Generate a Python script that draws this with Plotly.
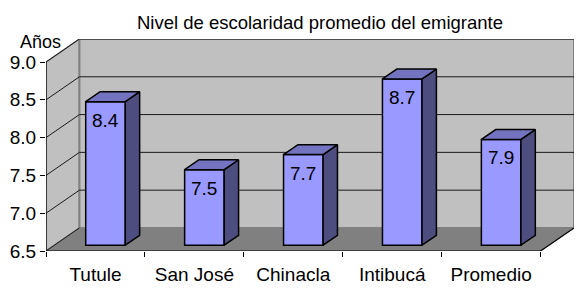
import plotly.graph_objects as go

# ---- data ----
cats = ["Tutule", "San José", "Chinacla", "Intibucá", "Promedio"]
values = [8.4, 7.5, 7.7, 8.7, 7.9]
y_ticks = [6.5, 7.0, 7.5, 8.0, 8.5, 9.0]
title_text = "Nivel de escolaridad promedio del emigrante"
y_title = "Años"

# ---- 3D projection parameters (style) ----
Y_MIN, Y_MAX = y_ticks[0], y_ticks[-1]
DX, DY = 0.338, 0.305       # full depth offset in data units
D0, D1 = 0.25, 0.68         # bar front/back depth fractions
W = 0.40                    # bar front width
SHIFT = 0.017
FONT = "Liberation Sans, Arial, sans-serif"

n = len(cats)
x0, x1 = -0.5, n - 0.5

fig = go.Figure()
common = dict(mode="lines", hoverinfo="skip", showlegend=False)

# left wall
fig.add_trace(go.Scatter(x=[x0, x0, x0 + DX, x0 + DX, x0],
                         y=[Y_MIN, Y_MAX, Y_MAX + DY, Y_MIN + DY, Y_MIN],
                         fill="toself", fillcolor="#C0C0C0",
                         line=dict(color="#808080", width=1.5), **common))
# back wall
fig.add_trace(go.Scatter(x=[x0 + DX, x1 + DX, x1 + DX, x0 + DX, x0 + DX],
                         y=[Y_MIN + DY, Y_MIN + DY, Y_MAX + DY, Y_MAX + DY, Y_MIN + DY],
                         fill="toself", fillcolor="#C0C0C0",
                         line=dict(color="#808080", width=2), **common))
# floor
fig.add_trace(go.Scatter(x=[x0, x1, x1 + DX, x0 + DX, x0],
                         y=[Y_MIN, Y_MIN, Y_MIN + DY, Y_MIN + DY, Y_MIN],
                         fill="toself", fillcolor="#808080",
                         line=dict(color="#808080", width=0.5), **common))
# gridlines (left wall diagonals + back wall horizontals)
gx, gy = [], []
for v in y_ticks:
    if v == Y_MIN:
        gx += [x0, x0 + DX, None]
        gy += [v, v + DY, None]
    else:
        gx += [x0, x0 + DX, x1 + DX, None]
        gy += [v, v + DY, v + DY, None]
fig.add_trace(go.Scatter(x=gx, y=gy, line=dict(color="#1a1a1a", width=1), **common))
# floor front & right edges, y axis line
fig.add_trace(go.Scatter(x=[x0, x0, None, x0, x1, x1 + DX],
                         y=[Y_MAX, Y_MIN, None, Y_MIN, Y_MIN, Y_MIN + DY],
                         line=dict(color="black", width=1.2), **common))

# bars (overlay axes so they sit above walls)
xc = [i + D0 * DX + SHIFT for i in range(n)]
fig.add_trace(go.Bar(x=xc, y=[v - Y_MIN for v in values], base=Y_MIN + D0 * DY,
                     width=W, marker=dict(color="#9999FF", line=dict(color="black", width=1.5)),
                     hoverinfo="skip", showlegend=False, xaxis="x2", yaxis="y2"))
sx, sy, tx, ty = [], [], [], []
ddx = (D1 - D0) * DX
for c, v in zip(xc, values):
    xl, xr = c - W / 2, c + W / 2
    sx += [xr, xr, xr + ddx, xr + ddx, xr, None]
    sy += [Y_MIN + D0 * DY, v + D0 * DY, v + D1 * DY, Y_MIN + D1 * DY, Y_MIN + D0 * DY, None]
    tx += [xl, xr, xr + ddx, xl + ddx, xl, None]
    ty += [v + D0 * DY, v + D0 * DY, v + D1 * DY, v + D1 * DY, v + D0 * DY, None]
fig.add_trace(go.Scatter(x=sx, y=sy, fill="toself", fillcolor="#4D4D80",
                         line=dict(color="black", width=1.5), xaxis="x2", yaxis="y2", **common))
fig.add_trace(go.Scatter(x=tx, y=ty, fill="toself", fillcolor="#7373BF",
                         line=dict(color="black", width=1.5), xaxis="x2", yaxis="y2", **common))

# data labels
for c, v in zip(xc, values):
    fig.add_annotation(x=c, y=v + D0 * DY, xref="x2", yref="y2", text=f"{v:.1f}",
                       showarrow=False, yanchor="top", yshift=-6,
                       font=dict(size=19, color="black", family=FONT))

fig.add_annotation(x=-0.01, y=0.985, xref="paper", yref="paper", text=y_title,
                   showarrow=False, xanchor="center", yanchor="middle",
                   font=dict(size=18, color="black", family=FONT))

xr_ = [x0, x1 + DX]
yr_ = [Y_MIN, Y_MAX + DY]
fig.update_layout(
    width=579, height=297,
    margin=dict(l=46, r=5, t=39, b=46),
    paper_bgcolor="white", plot_bgcolor="white",
    font=dict(family=FONT, size=18, color="black"),
    showlegend=False,
    title=dict(text=title_text, x=320 / 579, xref="container", xanchor="center",
               y=1 - 23 / 297, yref="container", yanchor="middle",
               font=dict(size=18.5, family=FONT, color="black")),
    xaxis=dict(range=xr_, tickmode="array", tickvals=list(range(n)), ticktext=cats,
               ticks="outside", ticklen=6, tickcolor="rgba(0,0,0,0)", automargin=False,
               showgrid=False, zeroline=False, showline=False, fixedrange=True,
               minor=dict(tickmode="array", tickvals=[x0 + k for k in range(n + 1)],
                          ticks="outside", ticklen=5, tickcolor="black", tickwidth=1,
                          showgrid=False),
               tickfont=dict(size=19)),
    yaxis=dict(range=yr_, tickmode="array", tickvals=y_ticks,
               ticktext=[f"{t:.1f}" for t in y_ticks], automargin=False,
               ticks="outside", ticklen=5, tickcolor="black", tickwidth=1,
               showgrid=False, zeroline=False, showline=False, fixedrange=True,
               tickfont=dict(size=19)),
    xaxis2=dict(range=xr_, overlaying="x", visible=False, fixedrange=True),
    yaxis2=dict(range=yr_, overlaying="y", visible=False, fixedrange=True),
)

fig.write_html("out.html", config={"displayModeBar": False},
               post_script="document.body.style.margin='0';")
